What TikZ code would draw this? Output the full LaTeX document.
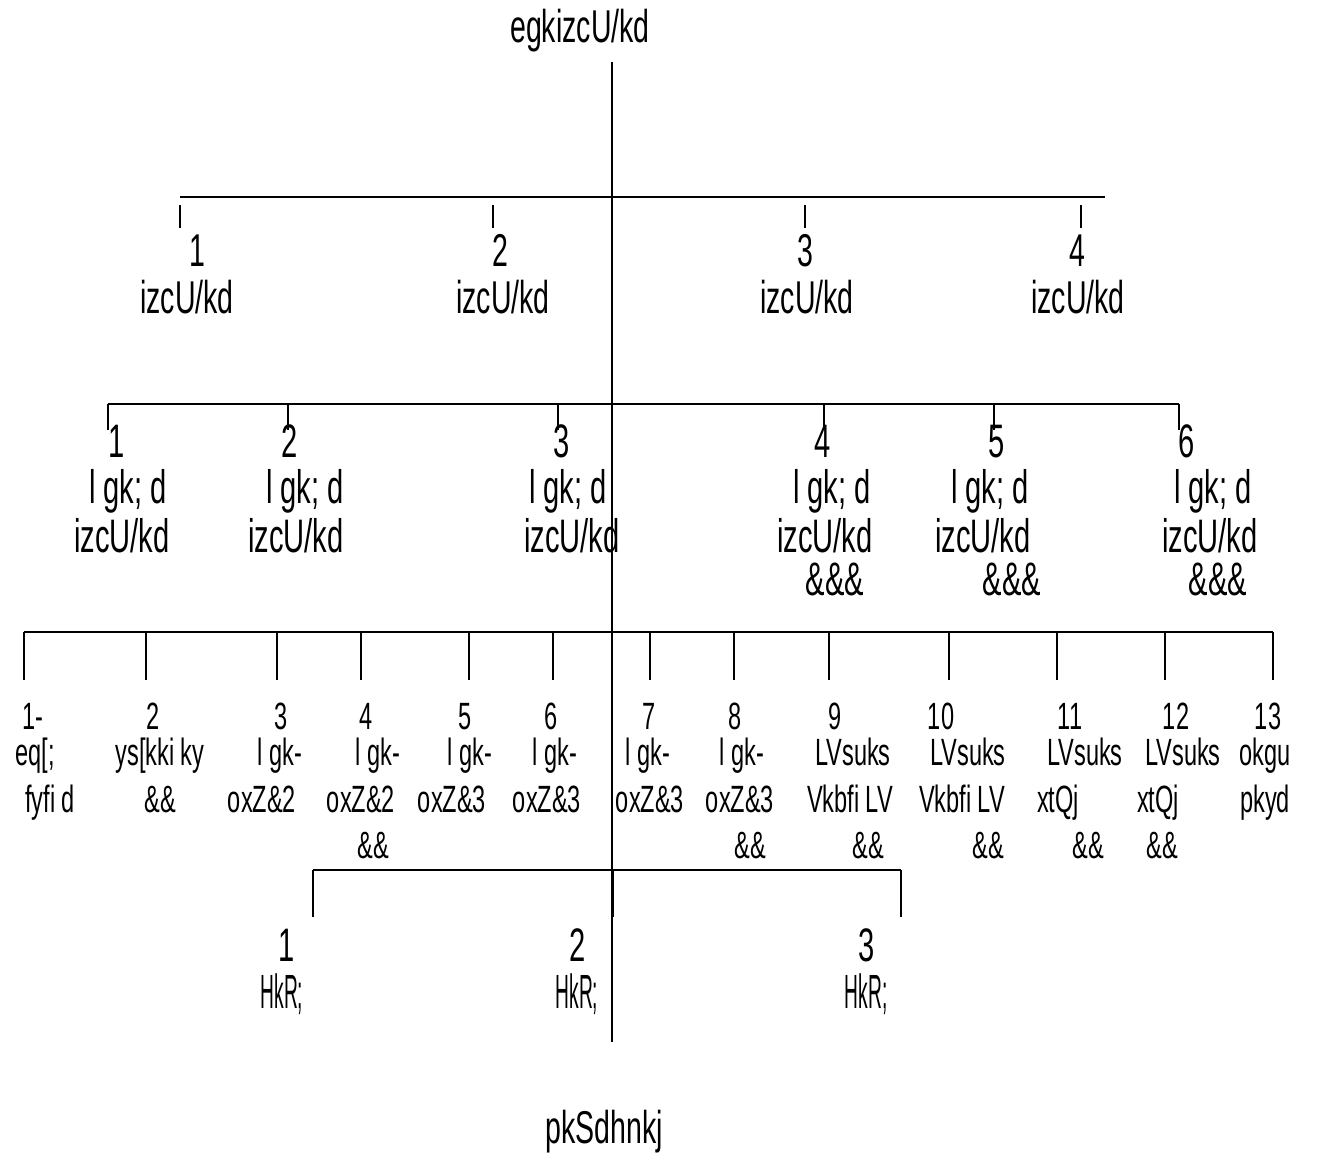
\documentclass[tikz,border=0pt]{standalone}
\usepackage{fontspec}
\setmainfont[FakeStretch=0.62]{Liberation Sans}
\newfontfamily\slimfont[FakeStretch=0.4]{Liberation Sans}
\tikzset{
  bar/.style={line width=1.6pt},
  tick/.style={line width=1.4pt},
  capA/.style={anchor=base,inner sep=0,font=\fontsize{46}{52}\selectfont},
  capB/.style={anchor=base,inner sep=0,font=\fontsize{47}{54}\selectfont},
  capC/.style={anchor=base,inner sep=0,font=\fontsize{38}{44}\selectfont},
  capD/.style={anchor=base,inner sep=0,font=\slimfont\fontsize{48}{54}\selectfont},
}
\begin{document}
\begin{tikzpicture}[x=1pt,y=-1pt]
	\useasboundingbox (0,0) rectangle (1320,1158);
	\node[capA] (gm) at (580,43) {egkizcU/kd};
	\coordinate (top) at (612,62);
	\coordinate (foot) at (612,1042);
	\draw[bar] (top) -- (foot);

	\coordinate (p1) at (180,205);
	\coordinate (p2) at (493,205);
	\coordinate (p3) at (805,205);
	\coordinate (p4) at (1081,205);
	\coordinate (pb) at (0,228);
	\coordinate (pw) at (180,197);
	\coordinate (pe) at (1105,197);
	\draw[bar] (pw) -- (pe);
	\draw[tick] (p1) -- (p1 |- pb);
	\draw[tick] (p2) -- (p2 |- pb);
	\draw[tick] (p3) -- (p3 |- pb);
	\draw[tick] (p4) -- (p4 |- pb);
	\node[capA] (pn1) at (197,267) {1};
	\node[capA] (pn2) at (500,267) {2};
	\node[capA] (pn3) at (805,267) {3};
	\node[capA] (pn4) at (1077,267) {4};
	\node[capA] (pt1) at (187,313) {izcU/kd};
	\node[capA] (pt2) at (503,313) {izcU/kd};
	\node[capA] (pt3) at (807,313) {izcU/kd};
	\node[capA] (pt4) at (1078,313) {izcU/kd};

	\coordinate (q1) at (108,404);
	\coordinate (q2) at (288,404);
	\coordinate (q3) at (558,404);
	\coordinate (q4) at (824,404);
	\coordinate (q5) at (994,404);
	\coordinate (q6) at (1179,404);
	\coordinate (qb) at (0,430);
	\draw[bar] (q1) -- (q6);
	\draw[tick] (q1) -- (q1 |- qb);
	\draw[tick] (q2) -- (q2 |- qb);
	\draw[tick] (q3) -- (q3 |- qb);
	\draw[tick] (q4) -- (q4 |- qb);
	\draw[tick] (q5) -- (q5 |- qb);
	\draw[tick] (q6) -- (q6 |- qb);
	\node[capB] (qn1) at (117,457) {1};
	\node[capB] (qn2) at (290,457) {2};
	\node[capB] (qn3) at (562,457) {3};
	\node[capB] (qn4) at (823,457) {4};
	\node[capB] (qn5) at (997,457) {5};
	\node[capB] (qn6) at (1187,457) {6};
	\node[capB] (qa1) at (128,503) {l gk; d};
	\node[capB] (qa2) at (305,503) {l gk; d};
	\node[capB] (qa3) at (568,503) {l gk; d};
	\node[capB] (qa4) at (832,503) {l gk; d};
	\node[capB] (qa5) at (990,503) {l gk; d};
	\node[capB] (qa6) at (1213,503) {l gk; d};
	\node[capB] (qb1) at (122,552) {izcU/kd};
	\node[capB] (qb2) at (296,552) {izcU/kd};
	\node[capB] (qb3) at (572,552) {izcU/kd};
	\node[capB] (qb4) at (825,552) {izcU/kd};
	\node[capB] (qb5) at (983,552) {izcU/kd};
	\node[capB] (qb6) at (1210,552) {izcU/kd};
	\node[capB] (qc4) at (835,595) {\&\&\&};
	\node[capB] (qc5) at (1012,595) {\&\&\&};
	\node[capB] (qc6) at (1218,595) {\&\&\&};

	\coordinate (r1) at (24,632);
	\coordinate (r2) at (146,632);
	\coordinate (r3) at (277,632);
	\coordinate (r4) at (361,632);
	\coordinate (r5) at (469,632);
	\coordinate (r6) at (553,632);
	\coordinate (r7) at (650,632);
	\coordinate (r8) at (734,632);
	\coordinate (r9) at (829,632);
	\coordinate (r10) at (949,632);
	\coordinate (r11) at (1057,632);
	\coordinate (r12) at (1165,632);
	\coordinate (r13) at (1273,632);
	\coordinate (rb) at (0,680);
	\draw[bar] (r1) -- (r13);
	\draw[tick] (r1) -- (r1 |- rb);
	\draw[tick] (r2) -- (r2 |- rb);
	\draw[tick] (r3) -- (r3 |- rb);
	\draw[tick] (r4) -- (r4 |- rb);
	\draw[tick] (r5) -- (r5 |- rb);
	\draw[tick] (r6) -- (r6 |- rb);
	\draw[tick] (r7) -- (r7 |- rb);
	\draw[tick] (r8) -- (r8 |- rb);
	\draw[tick] (r9) -- (r9 |- rb);
	\draw[tick] (r10) -- (r10 |- rb);
	\draw[tick] (r11) -- (r11 |- rb);
	\draw[tick] (r12) -- (r12 |- rb);
	\draw[tick] (r13) -- (r13 |- rb);
	\node[capC] (rn1) at (33,729) {1-};
	\node[capC] (rn2) at (153,729) {2};
	\node[capC] (rn3) at (281,729) {3};
	\node[capC] (rn4) at (366,729) {4};
	\node[capC] (rn5) at (465,729) {5};
	\node[capC] (rn6) at (551,729) {6};
	\node[capC] (rn7) at (649,729) {7};
	\node[capC] (rn8) at (735,729) {8};
	\node[capC] (rn9) at (835,729) {9};
	\node[capC] (rn10) at (941,729) {10};
	\node[capC] (rn11) at (1070,729) {11};
	\node[capC] (rn12) at (1176,729) {12};
	\node[capC] (rn13) at (1268,729) {13};
	\node[capC] (ra1) at (35,765) {eq[;};
	\node[capC] (ra2) at (160,765) {ys[kki ky};
	\node[capC] (ra3) at (280,765) {l gk-};
	\node[capC] (ra4) at (378,765) {l gk-};
	\node[capC] (ra5) at (470,765) {l gk-};
	\node[capC] (ra6) at (555,765) {l gk-};
	\node[capC] (ra7) at (648,765) {l gk-};
	\node[capC] (ra8) at (742,765) {l gk-};
	\node[capC] (ra9) at (853,765) {LVsuks};
	\node[capC] (ra10) at (968,765) {LVsuks};
	\node[capC] (ra11) at (1085,765) {LVsuks};
	\node[capC] (ra12) at (1183,765) {LVsuks};
	\node[capC] (ra13) at (1265,765) {okgu};
	\node[capC] (rb1) at (50,812) {fyfi d};
	\node[capC] (rb2) at (160,812) {\&\&};
	\node[capC] (rb3) at (262,812) {oxZ\&2};
	\node[capC] (rb4) at (361,812) {oxZ\&2};
	\node[capC] (rb5) at (452,812) {oxZ\&3};
	\node[capC] (rb6) at (547,812) {oxZ\&3};
	\node[capC] (rb7) at (650,812) {oxZ\&3};
	\node[capC] (rb8) at (740,812) {oxZ\&3};
	\node[capC] (rb9) at (850,812) {Vkbfi LV};
	\node[capC] (rb10) at (962,812) {Vkbfi LV};
	\node[capC] (rb11) at (1058,812) {xtQj};
	\node[capC] (rb12) at (1158,812) {xtQj};
	\node[capC] (rb13) at (1265,812) {pkyd};
	\node[capC] (rc4) at (373,858) {\&\&};
	\node[capC] (rc8) at (750,858) {\&\&};
	\node[capC] (rc9) at (868,858) {\&\&};
	\node[capC] (rc10) at (988,858) {\&\&};
	\node[capC] (rc11) at (1088,858) {\&\&};
	\node[capC] (rc12) at (1162,858) {\&\&};

	\coordinate (s1) at (313,870);
	\coordinate (s2) at (613,870);
	\coordinate (s3) at (901,870);
	\coordinate (sb) at (0,917);
	\draw[bar] (s1) -- (s3);
	\draw[tick] (s1) -- (s1 |- sb);
	\draw[bar] (s2) -- (s2 |- sb);
	\draw[tick] (s3) -- (s3 |- sb);
	\node[capB] (sn1) at (287,961) {1};
	\node[capB] (sn2) at (578,961) {2};
	\node[capB] (sn3) at (867,961) {3};
	\node[capD] (st1) at (282,1008) {HkR;};
	\node[capD] (st2) at (577,1008) {HkR;};
	\node[capD] (st3) at (866,1008) {HkR;};

	\node[capA] (wd) at (604,1143) {pkSdhnkj};
\end{tikzpicture}
\end{document}
